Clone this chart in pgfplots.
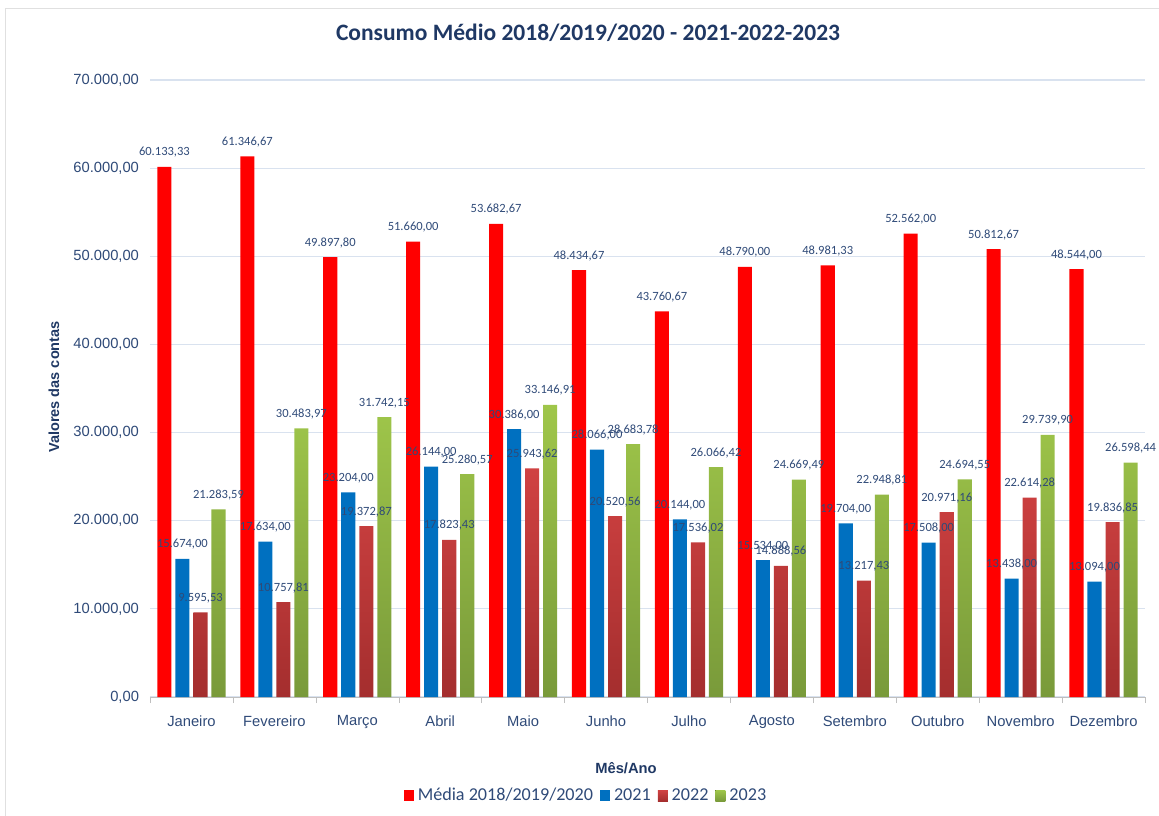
\documentclass[border=0pt]{standalone}
\usepackage{pgfplots}
\pgfplotsset{compat=1.18}
\usepackage{pgfplotstable}
\usepackage{fontspec}
\setmainfont{Carlito}
\newfontfamily\arial{Liberation Sans}

\definecolor{titulo}{HTML}{1F3864}
\definecolor{rotulo}{HTML}{2F4A78}
\definecolor{grade}{HTML}{D9E2EF}
\definecolor{vermelho}{HTML}{FF0000}
\definecolor{azul}{HTML}{0070C0}
\definecolor{tijoloA}{HTML}{D04242}
\definecolor{tijoloB}{HTML}{A42E2E}
\definecolor{verdeA}{HTML}{9FC64A}
\definecolor{verdeB}{HTML}{799A3A}

% consumo medio por mes (0 = Janeiro ... 11 = Dezembro)
\pgfplotstableread{
x media a2021 a2022 a2023
0  60133.33 15674 9595.53  21283.59
1  61346.67 17634 10757.81 30483.97
2  49897.80 23204 19372.87 31742.15
3  51660.00 26144 17823.43 25280.57
4  53682.67 30386 25943.62 33146.91
5  48434.67 28066 20520.56 28683.78
6  43760.67 20144 17536.02 26066.42
7  48790.00 15534 14888.56 24669.49
8  48981.33 19704 13217.43 22948.81
9  52562.00 17508 20971.16 24694.55
10 50812.67 13438 22614.28 29739.90
11 48544.00 13094 19836.85 26598.44
}\consumo

\pgfplotsset{
  rotulos/.style={
    draw=none, fill=none, forget plot,
    nodes near coords={\pgfmathprintnumber[fixed,fixed zerofill,precision=2,use comma,1000 sep={.},assume math mode=true]{\pgfplotspointmeta}},
    every node near coord/.append style={font=\fontsize{6.3}{7}\selectfont, text=rotulo, inner sep=1.5bp, yshift=3bp},
  },
}

\begin{document}
\begin{tikzpicture}
\useasboundingbox (-75bp,-59.5bp) rectangle (504.5bp,348.5bp);
\draw[black!12] (-72.5bp,-59.5bp) -- (-72.5bp,344.5bp) -- (504.5bp,344.5bp);
\begin{axis}[
  at={(0,0)}, anchor=south west,
  scale only axis,
  width=497.5bp, height=308.5bp,
  xmin=-0.5, xmax=11.5,
  ymin=0, ymax=70000,
  ytick={0,10000,...,70000},
  xtick={0,...,11},
  xticklabels={Janeiro,Fevereiro,Março,Abril,Maio,Junho,Julho,Agosto,Setembro,Outubro,Novembro,Dezembro},
  minor xtick={-0.5,0.5,...,11.5},
  major x tick style={draw=none},
  minor x tick style={draw=black!25},
  minor tick length=3bp,
  xtick align=outside,
  major y tick style={draw=none},
  axis x line*=bottom, axis y line*=left,
  x axis line style={draw=black!25, -},
  y axis line style={draw=none},
  ymajorgrids, grid style={draw=grade, line width=0.6bp},
  yticklabel style={/pgf/number format/fixed, /pgf/number format/fixed zerofill,
    /pgf/number format/precision=2, /pgf/number format/use comma,
    /pgf/number format/1000 sep={.}, /pgf/number format/assume math mode=true, xshift=-2bp},
  scaled y ticks=false,
  ticklabel style={font=\arial\fontsize{7.4}{9}\selectfont, text=rotulo},
  xticklabel style={yshift=-1.5bp},
  ylabel={Valores das contas},
  every axis y label/.style={at={(-48bp,155bp)}, rotate=90, anchor=center,
    font=\arial\bfseries\fontsize{7.3}{9}\selectfont, text=titulo},
  xlabel={Mês/Ano},
  every axis x label/.style={at={(238bp,-35.5bp)}, anchor=center,
    font=\arial\bfseries\fontsize{7.4}{9}\selectfont, text=titulo},
  ybar, bar width=0.17,
  area legend,
  legend image code/.code={\fill[#1] (0bp,-2.6bp) rectangle (5bp,2.9bp);},
  legend style={at={(218.5bp,-49.5bp)}, anchor=center, draw=none, fill=none,
    font=\fontsize{9.1}{10}\selectfont, text=rotulo, legend columns=-1,
    /tikz/every even column/.append style={column sep=1.5bp},
    inner sep=0pt},
  clip=false,
]
\addplot[fill=vermelho, draw=none, bar shift=-0.326] table[x=x, y=media] {\consumo};
\addplot[fill=azul, draw=none, bar shift=-0.109] table[x=x, y=a2021] {\consumo};
\addplot[draw=none, top color=tijoloA, bottom color=tijoloB, bar shift=0.109] table[x=x, y=a2022] {\consumo};
\addplot[draw=none, top color=verdeA, bottom color=verdeB, bar shift=0.326] table[x=x, y=a2023] {\consumo};
\legend{Média 2018/2019/2020, 2021, 2022, 2023}

\addplot[rotulos, bar shift=-0.326] table[x=x, y=media] {\consumo};
\addplot[rotulos, bar shift=-0.109] table[x=x, y=a2021] {\consumo};
\addplot[rotulos, bar shift=0.109] table[x=x, y=a2022] {\consumo};
\addplot[rotulos, bar shift=0.326] table[x=x, y=a2023] {\consumo};
\end{axis}
\node[font=\bfseries\fontsize{11.8}{13}\selectfont, text=titulo] at (219bp,332bp) {Consumo Médio 2018/2019/2020 - 2021-2022-2023};
\end{tikzpicture}
\end{document}
